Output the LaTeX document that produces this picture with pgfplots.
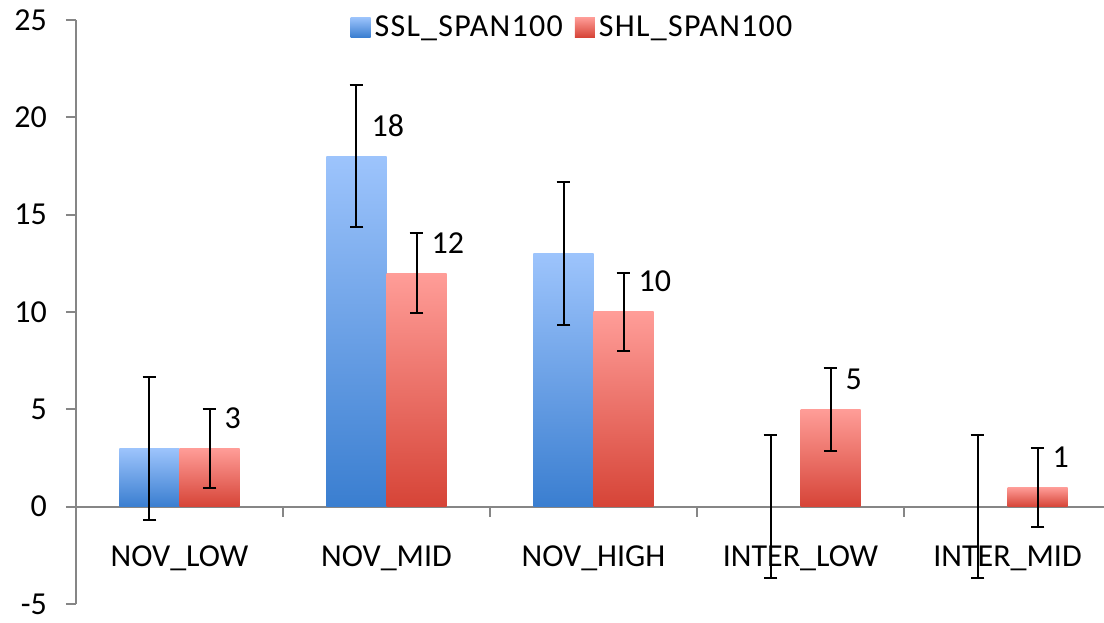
\documentclass[border=0pt]{standalone}
\usepackage{fontspec}
\setmainfont{Carlito}
\usepackage{pgfplots}
\pgfplotsset{compat=1.18}

\definecolor{axisgray}{RGB}{134,134,134}
\definecolor{bluetop}{RGB}{157,196,252}
\definecolor{bluebot}{RGB}{58,126,208}
\definecolor{redtop}{RGB}{255,157,152}
\definecolor{redbot}{RGB}{214,68,55}

\pgfplotsset{
    errs/.style={
        /pgfplots/error bars/y dir=both,
        /pgfplots/error bars/y explicit,
        /pgfplots/error bars/error bar style={black, line width=1pt},
        /pgfplots/error bars/error mark options={rotate=90, black, line width=1pt, mark size=3.4pt}},
    ssl/.style={draw=none, top color=bluetop, bottom color=bluebot, bar shift=-0.145, errs},
    shl/.style={draw=none, top color=redtop, bottom color=redbot, bar shift=0.145, errs},
}

\begin{document}
\begin{tikzpicture}
\begin{axis}[
    name=ax,
    scale only axis,
    width=514pt, height=292pt,
    xmin=-0.5, xmax=4.466, ymin=-5, ymax=25,
    axis y line=left, axis x line=middle,
    hide obscured y ticks=false,
    axis line style={-, draw=axisgray, line width=1pt},
    every inner x axis line/.append style={-},
    every outer y axis line/.append style={-},
    tick align=outside,
    tick style={axisgray, line width=1pt},
    major tick length=5pt, minor tick length=5pt,
    ytick={-5,0,...,25},
    xtick={0,...,4},
    xticklabels={NOV\_LOW, NOV\_MID, NOV\_HIGH, INTER\_LOW, INTER\_MID},
    major x tick style={draw=none},
    minor xtick={0.5,1.5,2.5,3.5},
    /pgf/number format/assume math mode=true,
    tick label style={font=\fontsize{16}{19}\selectfont, black},
    yticklabel style={xshift=-6pt},
    xticklabel style={yshift=-11pt},
    ybar, bar width=0.29,
    every node near coord/.append style={font=\fontsize{16}{19}\selectfont, black, anchor=west, xshift=4pt, yshift=15.2pt},
    legend columns=-1,
    legend style={draw=none, fill=none, at={(0.484,0.9876)}, anchor=center,
        font=\fontsize{16}{19}\selectfont\addfontfeature{LetterSpace=4},
        /tikz/every even column/.append style={column sep=4pt}},
    legend image code/.code={\path[#1, draw=none] (0pt,-5pt) rectangle (10pt,5pt);},
]
% one plot per bar so that each bar gets its own gradient
\addplot[ssl] coordinates {(0,3) +- (0,3.67)};
\addplot[shl, nodes near coords] coordinates {(0,3) +- (0,2.02)};
\addplot[ssl, forget plot, nodes near coords] coordinates {(1,18) +- (0,3.66)};
\addplot[ssl, forget plot] coordinates {(2,13) +- (0,3.67)};
\addplot[ssl, forget plot] coordinates {(3,0) +- (0,3.67)};
\addplot[ssl, forget plot] coordinates {(4,0) +- (0,3.67)};
\addplot[shl, forget plot, nodes near coords] coordinates {(1,12) +- (0,2.05)};
\addplot[shl, forget plot, nodes near coords] coordinates {(2,10) +- (0,2.02)};
\addplot[shl, forget plot, nodes near coords] coordinates {(3,5) +- (0,2.12)};
\addplot[shl, forget plot, nodes near coords] coordinates {(4,1) +- (0,2.02)};
\legend{SSL\_SPAN100, SHL\_SPAN100}
\end{axis}
\pgfresetboundingbox
\path ([xshift=-38pt,yshift=-9.5pt]ax.south west) rectangle ([yshift=10pt]ax.north east);
\end{tikzpicture}
\end{document}
